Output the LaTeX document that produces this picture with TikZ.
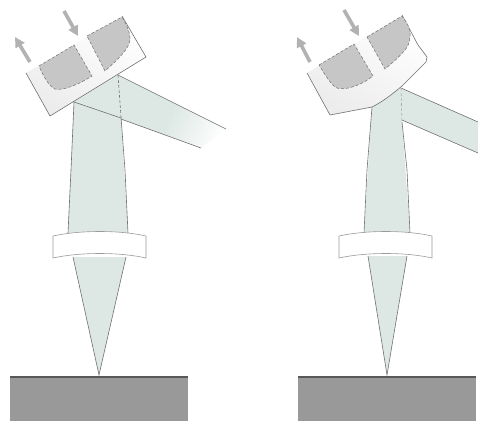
\documentclass[tikz,border=0pt]{standalone}
\usepackage{xcolor}
\usetikzlibrary{arrows.meta}
\definecolor{beamgreen}{HTML}{DDE8E5}
\definecolor{padgray}{HTML}{C6C6C6}
\definecolor{samplegray}{HTML}{999999}
\definecolor{edgegray}{HTML}{707070}
\pgfdeclarehorizontalshading{beamfade}{100bp}{color(0bp)=(beamgreen); color(58bp)=(beamgreen); color(80bp)=(white); color(100bp)=(white)}
\tikzset{
    beam/.style={fill=beamgreen, draw=none},
    ray/.style={draw=edgegray, line width=0.6pt},
    pad/.style={fill=padgray, draw=edgegray, line width=0.5pt, densely dashed},
    lens/.style={fill=white, draw=edgegray!70, line width=0.6pt},
    mirrorfill/.style={top color=white, bottom color=gray!15, shading angle=-30},
    flow/.style={-{Triangle[length=10pt,width=10pt]}, line width=3.6pt, draw=gray!60},
    sample/.style={fill=samplegray, draw=none},
    sampletop/.style={draw=black!65, line width=1.5pt}
}
\begin{document}
\begin{tikzpicture}[x=1pt,y=-1pt]
    \useasboundingbox (0,0) rectangle (478,421);

    % Left: reflected beam
    \shade[shading=beamfade, shading angle=-25] (118,75) -- (226,129) -- (201,148) -- (74,102) -- cycle;
    \draw[ray] (118,75) -- (226,129);
    \draw[ray] (74,102) -- (201,148);

    % Left: column and cone
    \fill[beam] (74,102) -- (68,233) -- (128,233) -- (121,117) -- (118,75) -- cycle;
    \draw[ray] (74,102) -- (71,170) -- (68,233);
    \draw[ray] (121,117) -- (125,170) -- (128,233);
    \draw[ray, densely dashed] (118,75) -- (121,117);
    \draw[ray] (74,102) -- (121,118);
    \draw[beam, ray, fill=beamgreen] (73,257) -- (99,375) -- (126,257);

    % Left: lens
    \draw[lens] (53,236) .. controls (80,230) and (120,230) .. (146,236) -- (146,258) .. controls (120,252) and (80,252) .. (53,258) -- cycle;

    % Left: mirror
    \shade[mirrorfill] (122,16) -- (146,57) -- (50,116) -- (26,73) -- cycle;
    \draw[ray] (122,16) -- (146,57) -- (50,116) -- (26,73);
    \draw[pad] (39,66) -- (74,45) -- (92,76) .. controls (78,85) and (62,91) .. (55,89) .. controls (50,87) and (44,78) .. (39,66) -- cycle;
    \draw[pad] (87,36) -- (122,17) .. controls (127,25) and (130,33) .. (130,38) .. controls (130,46) and (125,53) .. (105,71) -- cycle;

    % Left: flow arrows
    \draw[flow] (30,62) -- (15,37);
    \draw[flow] (64,11) -- (78,36);

    % Left: sample
    \fill[sample] (10,377) rectangle (188,421);
    \draw[sampletop] (10,377) -- (188,377);

    % Right: reflected beam
    \fill[beam] (401,88) -- (478,122) -- (478,153) -- (372,107) -- cycle;
    \draw[ray] (401,88) -- (478,122);
    \draw[ray] (372,107) -- (478,153);

    % Right: column and cone
    \fill[beam] (372,107) -- (364,233) -- (410,233) -- (402,122) -- (401,88) -- cycle;
    \draw[ray] (372,107) -- (367,170) -- (364,233);
    \draw[ray] (402,122) -- (407,170) -- (410,233);
    \draw[ray, densely dashed, draw=edgegray!60] (401,88) -- (402,122);
    \draw[beam, ray, fill=beamgreen] (368,256) -- (387,375) -- (407,256);

    % Right: lens
    \draw[lens] (339,236) .. controls (366,230) and (406,230) .. (432,236) -- (432,258) .. controls (406,252) and (366,252) .. (339,258) -- cycle;

    % Right: bent mirror
    \shade[mirrorfill] (402,15) -- (418,45) -- (427,57) -- (426,62) -- (402,86) .. controls (390,96) and (382,102) .. (372,107) -- (330,115) -- (307,73) -- cycle;
    \draw[ray] (402,15) -- (418,45) -- (427,57) -- (426,62) -- (402,86) .. controls (390,96) and (382,102) .. (372,107) -- (330,115) -- (307,73);
    \draw[pad] (319,65) -- (354,44) -- (373,76) .. controls (362,85) and (345,91) .. (337,88) .. controls (331,85) and (326,76) .. (319,65) -- cycle;
    \draw[pad] (367,37) -- (402,16) .. controls (408,24) and (411,30) .. (410,36) .. controls (410,44) and (408,50) .. (385,69) -- cycle;

    % Right: flow arrows
    \draw[flow] (310,62) -- (297,37);
    \draw[flow] (344,10) -- (359,36);

    % Right: sample
    \fill[sample] (298,377) rectangle (476,421);
    \draw[sampletop] (298,377) -- (476,377);
\end{tikzpicture}
\end{document}
